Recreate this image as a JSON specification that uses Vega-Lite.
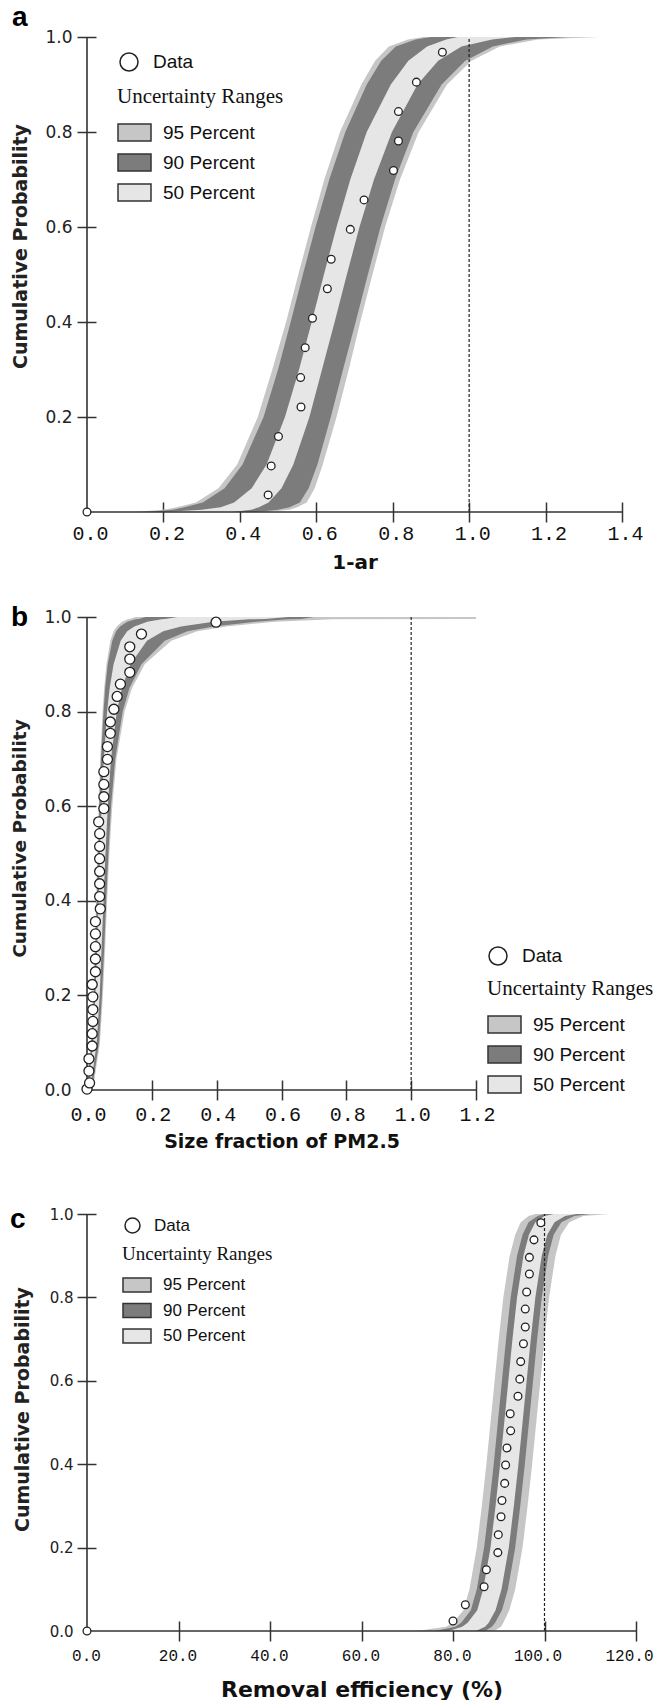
{
"$schema": "https://vega.github.io/schema/vega-lite/v6.json",
"background": "white",
"padding": {"left": 10, "top": 3, "right": 0, "bottom": 0},
"bounds": "flush",
"spacing": 0,
"config": {"view": {"stroke": null}, "axis": {"grid": false}},
"resolve": {"scale": {"fill": "independent", "shape": "independent"}},
"datasets": {
"a_band": [
{"p":0,"l95":0.12,"l90":0.15,"l50":0.20,"h50":0.38,"h90":0.44,"h95":0.47},
{"p":0.005,"l95":0.20,"l90":0.225,"l50":0.30,"h50":0.43,"h90":0.50,"h95":0.53},
{"p":0.01,"l95":0.235,"l90":0.255,"l50":0.35,"h50":0.45,"h90":0.53,"h95":0.55},
{"p":0.02,"l95":0.285,"l90":0.303,"l50":0.385,"h50":0.475,"h90":0.557,"h95":0.575},
{"p":0.05,"l95":0.344,"l90":0.36,"l50":0.431,"h50":0.509,"h90":0.58,"h95":0.596},
{"p":0.1,"l95":0.393,"l90":0.407,"l50":0.47,"h50":0.54,"h90":0.603,"h95":0.617},
{"p":0.2,"l95":0.447,"l90":0.462,"l50":0.518,"h50":0.582,"h90":0.638,"h95":0.653},
{"p":0.3,"l95":0.485,"l90":0.5,"l50":0.555,"h50":0.615,"h90":0.67,"h95":0.685},
{"p":0.4,"l95":0.521,"l90":0.533,"l50":0.588,"h50":0.648,"h90":0.703,"h95":0.715},
{"p":0.5,"l95":0.553,"l90":0.565,"l50":0.62,"h50":0.68,"h90":0.735,"h95":0.747},
{"p":0.6,"l95":0.586,"l90":0.598,"l50":0.653,"h50":0.713,"h90":0.768,"h95":0.78},
{"p":0.7,"l95":0.621,"l90":0.634,"l50":0.689,"h50":0.751,"h90":0.806,"h95":0.819},
{"p":0.8,"l95":0.662,"l90":0.676,"l50":0.732,"h50":0.798,"h90":0.854,"h95":0.868},
{"p":0.9,"l95":0.718,"l90":0.732,"l50":0.795,"h50":0.865,"h90":0.928,"h95":0.942},
{"p":0.95,"l95":0.754,"l90":0.77,"l50":0.841,"h50":0.919,"h90":0.99,"h95":1.006},
{"p":0.98,"l95":0.79,"l90":0.808,"l50":0.89,"h50":0.98,"h90":1.062,"h95":1.08},
{"p":0.995,"l95":0.84,"l90":0.86,"l50":0.94,"h50":1.06,"h90":1.15,"h95":1.18},
{"p":1.0,"l95":0.88,"l90":0.90,"l50":0.97,"h50":1.12,"h90":1.26,"h95":1.34}
],
"a_pts": [
{"v":0,"p":0},{"v":0.474,"p":0.036},{"v":0.482,"p":0.097},{"v":0.501,"p":0.159},{"v":0.560,"p":0.221},
{"v":0.559,"p":0.283},{"v":0.571,"p":0.346},{"v":0.590,"p":0.408},{"v":0.629,"p":0.470},{"v":0.639,"p":0.532},
{"v":0.689,"p":0.595},{"v":0.725,"p":0.657},{"v":0.802,"p":0.719},{"v":0.815,"p":0.781},{"v":0.815,"p":0.843},
{"v":0.862,"p":0.905},{"v":0.930,"p":0.968}
],
"b_band": [
{"p":0,"l95":0.000,"l90":0.001,"l50":0.003,"h50":0.010,"h90":0.015,"h95":0.018},
{"p":0.1,"l95":0.012,"l90":0.014,"l50":0.019,"h50":0.030,"h90":0.037,"h95":0.040},
{"p":0.2,"l95":0.019,"l90":0.021,"l50":0.026,"h50":0.039,"h90":0.046,"h95":0.049},
{"p":0.3,"l95":0.024,"l90":0.026,"l50":0.031,"h50":0.045,"h90":0.053,"h95":0.056},
{"p":0.4,"l95":0.028,"l90":0.030,"l50":0.036,"h50":0.051,"h90":0.059,"h95":0.062},
{"p":0.5,"l95":0.032,"l90":0.034,"l50":0.040,"h50":0.057,"h90":0.066,"h95":0.069},
{"p":0.6,"l95":0.036,"l90":0.038,"l50":0.045,"h50":0.064,"h90":0.074,"h95":0.078},
{"p":0.7,"l95":0.041,"l90":0.043,"l50":0.052,"h50":0.074,"h90":0.087,"h95":0.091},
{"p":0.8,"l95":0.048,"l90":0.051,"l50":0.062,"h50":0.092,"h90":0.110,"h95":0.116},
{"p":0.85,"l95":0.053,"l90":0.056,"l50":0.070,"h50":0.108,"h90":0.131,"h95":0.139},
{"p":0.9,"l95":0.060,"l90":0.064,"l50":0.082,"h50":0.134,"h90":0.168,"h95":0.178},
{"p":0.95,"l95":0.072,"l90":0.078,"l50":0.104,"h50":0.185,"h90":0.240,"h95":0.260},
{"p":0.97,"l95":0.082,"l90":0.090,"l50":0.124,"h50":0.235,"h90":0.310,"h95":0.340},
{"p":0.98,"l95":0.092,"l90":0.102,"l50":0.146,"h50":0.290,"h90":0.390,"h95":0.430},
{"p":0.99,"l95":0.108,"l90":0.124,"l50":0.186,"h50":0.390,"h90":0.520,"h95":0.580},
{"p":0.995,"l95":0.125,"l90":0.150,"l50":0.230,"h50":0.500,"h90":0.620,"h95":0.760},
{"p":0.996,"l95":0.130,"l90":0.160,"l50":0.240,"h50":0.550,"h90":0.660,"h95":1.2},
{"p":1.0,"l95":0.150,"l90":0.180,"l50":0.280,"h50":0.620,"h90":0.700,"h95":1.2}
],
"b_pts": [
{"v":0.0,"p":0.002},{"v":0.008,"p":0.015},{"v":0.006,"p":0.040},{"v":0.006,"p":0.066},{"v":0.016,"p":0.093},
{"v":0.016,"p":0.119},{"v":0.018,"p":0.145},{"v":0.018,"p":0.170},{"v":0.018,"p":0.197},{"v":0.016,"p":0.223},
{"v":0.026,"p":0.250},{"v":0.026,"p":0.277},{"v":0.026,"p":0.303},{"v":0.026,"p":0.330},{"v":0.026,"p":0.356},
{"v":0.041,"p":0.383},{"v":0.039,"p":0.409},{"v":0.039,"p":0.436},{"v":0.039,"p":0.462},{"v":0.039,"p":0.489},
{"v":0.039,"p":0.515},{"v":0.039,"p":0.542},{"v":0.036,"p":0.567},{"v":0.052,"p":0.595},{"v":0.052,"p":0.620},
{"v":0.052,"p":0.646},{"v":0.052,"p":0.673},{"v":0.063,"p":0.699},{"v":0.063,"p":0.726},{"v":0.072,"p":0.754},
{"v":0.072,"p":0.778},{"v":0.083,"p":0.805},{"v":0.093,"p":0.832},{"v":0.103,"p":0.858},{"v":0.132,"p":0.883},
{"v":0.132,"p":0.911},{"v":0.132,"p":0.937},{"v":0.168,"p":0.964},{"v":0.398,"p":0.989}
],
"c_band": [
{"p":0,"l95":72,"l90":76,"l50":79,"h50":85,"h90":87,"h95":89},
{"p":0.01,"l95":78.5,"l90":80.5,"l50":82.0,"h50":87.0,"h90":88.5,"h95":90.5},
{"p":0.02,"l95":80.0,"l90":81.8,"l50":83.2,"h50":87.8,"h90":89.2,"h95":91.0},
{"p":0.05,"l95":82.3,"l90":83.9,"l50":85.3,"h50":89.3,"h90":90.7,"h95":92.3},
{"p":0.1,"l95":83.6,"l90":85.2,"l50":86.6,"h50":90.6,"h90":92.0,"h95":93.6},
{"p":0.2,"l95":85.2,"l90":86.8,"l50":88.2,"h50":92.2,"h90":93.6,"h95":95.2},
{"p":0.3,"l95":86.3,"l90":87.9,"l50":89.3,"h50":93.3,"h90":94.7,"h95":96.3},
{"p":0.4,"l95":87.3,"l90":88.9,"l50":90.3,"h50":94.3,"h90":95.7,"h95":97.3},
{"p":0.5,"l95":88.2,"l90":89.8,"l50":91.2,"h50":95.2,"h90":96.6,"h95":98.2},
{"p":0.6,"l95":89.1,"l90":90.7,"l50":92.1,"h50":96.1,"h90":97.5,"h95":99.1},
{"p":0.7,"l95":90.0,"l90":91.6,"l50":93.0,"h50":97.0,"h90":98.4,"h95":100.0},
{"p":0.8,"l95":91.0,"l90":92.6,"l50":94.0,"h50":98.0,"h90":99.4,"h95":101.0},
{"p":0.9,"l95":92.4,"l90":94.0,"l50":95.4,"h50":99.4,"h90":100.8,"h95":102.4},
{"p":0.95,"l95":93.6,"l90":95.2,"l50":96.6,"h50":100.6,"h90":102.0,"h95":103.6},
{"p":0.98,"l95":94.8,"l90":96.5,"l50":98.0,"h50":102.2,"h90":103.7,"h95":105.4},
{"p":0.995,"l95":96.5,"l90":98.5,"l50":100.0,"h50":104.5,"h90":106.5,"h95":108.5},
{"p":1.0,"l95":98,"l90":100,"l50":102,"h50":107,"h90":110,"h95":114}
],
"c_pts": [
{"v":0,"p":0},{"v":80.0,"p":0.024},{"v":82.7,"p":0.063},{"v":86.8,"p":0.106},{"v":87.3,"p":0.147},
{"v":89.8,"p":0.188},{"v":89.9,"p":0.231},{"v":90.5,"p":0.274},{"v":90.7,"p":0.313},{"v":91.3,"p":0.354},
{"v":91.5,"p":0.398},{"v":91.8,"p":0.439},{"v":92.6,"p":0.480},{"v":92.5,"p":0.521},{"v":94.2,"p":0.563},
{"v":94.6,"p":0.604},{"v":94.8,"p":0.646},{"v":95.4,"p":0.689},{"v":95.8,"p":0.729},{"v":95.8,"p":0.772},
{"v":96.1,"p":0.813},{"v":96.7,"p":0.856},{"v":96.7,"p":0.896},{"v":97.7,"p":0.938},{"v":99.2,"p":0.979}
]
},
"vconcat": [
{
"width": 535, "height": 475,
"title": {"text": "a", "anchor": "start", "frame": "group", "orient": "top", "font": "Liberation Sans", "fontSize": 28, "fontWeight": "bold", "color": "#000", "baseline": "alphabetic", "dx": -75, "offset": -25.5},
"layer": [
{"data": {"name": "a_band"}, "mark": {"type": "area", "orient": "horizontal", "opacity": 1},
 "encoding": {
  "y": {"field": "p", "type": "quantitative", "title": "Cumulative Probability", "scale": {"domain": [0, 1], "nice": false, "zero": false},
   "axis": {"values": [0.2, 0.4, 0.6, 0.8, 1.0], "format": ".1f", "domain": false, "grid": false, "offset": -9, "tickSize": 19, "tickColor": "#333", "tickWidth": 1.5, "labelFont": "DejaVu Sans", "labelFontSize": 17, "labelColor": "#222", "labelPadding": 5, "labelFlush": false, "titleFont": "DejaVu Sans", "titleFontSize": 19, "titleFontWeight": "bold", "titleColor": "#222", "titleAngle": -90, "titleAlign": "center", "titleBaseline": "middle", "titleX": -76, "titleY": 209}},
  "x": {"field": "l95", "type": "quantitative", "title": "1-ar", "scale": {"domain": [0, 1.4], "nice": false, "zero": false},
   "axis": {"values": [0, 0.2, 0.4, 0.6, 0.8, 1.0, 1.2, 1.4], "format": ".1f", "domain": false, "grid": false, "offset": -10, "tickSize": 20, "tickColor": "#333", "tickWidth": 1.5, "tickOpacity": {"condition": {"test": "datum.value === 0", "value": 0}, "value": 1}, "labelFont": "Liberation Mono", "labelFontSize": 20, "labelColor": "#111", "labelPadding": 1.5, "labelOffset": 3, "labelFlush": false, "titleFont": "DejaVu Sans", "titleFontSize": 20, "titleFontWeight": "bold", "titleColor": "#111", "titleBaseline": "top", "titleY": 50}},
  "x2": {"field": "h95"},
  "fill": {"datum": "95 Percent", "type": "nominal", "scale": {"domain": ["95 Percent", "90 Percent", "50 Percent"], "range": ["#c6c6c6", "#7c7c7c", "#e6e6e6"]},
   "legend": {"title": "Uncertainty Ranges", "orient": "none", "legendX": 30, "legendY": 49, "direction": "vertical", "symbolType": "M-1,-0.52L1,-0.52L1,0.52L-1,0.52Z", "symbolSize": 1089, "symbolOpacity": 1, "titleFont": "Liberation Serif", "titleFontSize": 21, "titleFontWeight": "normal", "titleColor": "#111", "titlePadding": 8, "labelFont": "Liberation Sans", "labelFontSize": 19, "labelColor": "#111", "labelOffset": 11, "rowPadding": -3.5, "padding": 0,
    "encode": {"symbols": {"update": {"stroke": {"value": "#333"}, "strokeWidth": {"value": 1.5}}}}}}
 }},
{"data": {"name": "a_band"}, "mark": {"type": "area", "orient": "horizontal", "opacity": 1},
 "encoding": {"y": {"field": "p", "type": "quantitative", "title": "Cumulative Probability"}, "x": {"field": "l90", "type": "quantitative", "title": "1-ar"}, "x2": {"field": "h90"}, "fill": {"datum": "90 Percent", "type": "nominal"}}},
{"data": {"name": "a_band"}, "mark": {"type": "area", "orient": "horizontal", "opacity": 1},
 "encoding": {"y": {"field": "p", "type": "quantitative", "title": "Cumulative Probability"}, "x": {"field": "l50", "type": "quantitative", "title": "1-ar"}, "x2": {"field": "h50"}, "fill": {"datum": "50 Percent", "type": "nominal"}}},
{"data": {"values": [{}]}, "mark": {"type": "rule", "strokeDash": [3, 2], "color": "#222", "strokeWidth": 1.2},
 "encoding": {"x": {"datum": 1, "type": "quantitative", "title": "1-ar"}, "y": {"datum": 0, "type": "quantitative", "title": "Cumulative Probability"}, "y2": {"datum": 1}}},
{"data": {"values": [{}]}, "mark": {"type": "rule", "color": "#333", "strokeWidth": 1.6},
 "encoding": {"x": {"datum": 0, "type": "quantitative", "title": "1-ar"}, "y": {"datum": 0, "type": "quantitative", "title": "Cumulative Probability"}, "y2": {"datum": 1}}},
{"data": {"values": [{}]}, "mark": {"type": "rule", "color": "#333", "strokeWidth": 1.6},
 "encoding": {"x": {"datum": 0, "type": "quantitative", "title": "1-ar"}, "x2": {"datum": 1.4}, "y": {"datum": 0, "type": "quantitative", "title": "Cumulative Probability"}}},
{"data": {"name": "a_pts"}, "mark": {"type": "point", "filled": true, "fill": "#fff", "stroke": "#222", "strokeWidth": 1.3, "size": 60, "opacity": 1},
 "encoding": {"x": {"field": "v", "type": "quantitative", "title": "1-ar"}, "y": {"field": "p", "type": "quantitative", "title": "Cumulative Probability"},
  "shape": {"datum": "Data", "type": "nominal", "scale": {"domain": ["Data"], "range": ["circle"]},
   "legend": {"title": null, "orient": "none", "legendX": 32, "legendY": 15, "symbolSize": 324, "symbolOpacity": 1, "labelFont": "Liberation Sans", "labelFontSize": 19, "labelColor": "#111", "labelOffset": 14, "padding": 0,
    "encode": {"symbols": {"update": {"fill": {"value": "#fff"}, "stroke": {"value": "#222"}, "strokeWidth": {"value": 1.5}}}}}}}}
]
},
{"width": 10, "height": 105, "data": {"values": [{}]}, "mark": {"type": "text"}, "encoding": {"text": {"value": ""}}},
{
"width": 389, "height": 473,
"title": {"text": "b", "anchor": "start", "frame": "group", "orient": "top", "font": "Liberation Sans", "fontSize": 28, "fontWeight": "bold", "color": "#000", "baseline": "alphabetic", "dx": -76, "offset": -45.5},
"layer": [
{"data": {"name": "b_band"}, "mark": {"type": "area", "orient": "horizontal", "opacity": 1},
 "encoding": {
  "y": {"field": "p", "type": "quantitative", "title": "Cumulative Probability", "scale": {"domain": [0, 1], "nice": false, "zero": false},
   "axis": {"values": [0, 0.2, 0.4, 0.6, 0.8, 1.0], "format": ".1f", "domain": false, "grid": false, "offset": -9, "tickSize": 19, "tickColor": "#333", "tickWidth": 1.5, "tickOpacity": {"condition": {"test": "datum.value === 0", "value": 0}, "value": 1}, "labelFont": "DejaVu Sans", "labelFontSize": 17, "labelColor": "#222", "labelPadding": 6, "labelFlush": false, "titleFont": "DejaVu Sans", "titleFontSize": 18.5, "titleFontWeight": "bold", "titleColor": "#222", "titleAngle": -90, "titleAlign": "center", "titleBaseline": "middle", "titleX": -77, "titleY": 221}},
  "x": {"field": "l95", "type": "quantitative", "title": "Size fraction of PM2.5", "scale": {"domain": [0, 1.2], "nice": false, "zero": false},
   "axis": {"values": [0, 0.2, 0.4, 0.6, 0.8, 1.0, 1.2], "format": ".1f", "domain": false, "grid": false, "offset": -10, "tickSize": 20, "tickColor": "#333", "tickWidth": 1.5, "tickOpacity": {"condition": {"test": "datum.value === 0", "value": 0}, "value": 1}, "labelFont": "Liberation Mono", "labelFontSize": 20, "labelColor": "#111", "labelPadding": 4, "labelOffset": 1, "labelFlush": false, "titleFont": "DejaVu Sans", "titleFontSize": 19, "titleFontWeight": "bold", "titleColor": "#111", "titleBaseline": "top", "titleY": 52}},
  "x2": {"field": "h95"},
  "fill": {"datum": "95 Percent", "type": "nominal", "scale": {"domain": ["95 Percent", "90 Percent", "50 Percent"], "range": ["#c6c6c6", "#7c7c7c", "#e6e6e6"]},
   "legend": {"title": "Uncertainty Ranges", "orient": "none", "legendX": 400, "legendY": 361, "direction": "vertical", "symbolType": "M-1,-0.52L1,-0.52L1,0.52L-1,0.52Z", "symbolSize": 1089, "symbolOpacity": 1, "titleFont": "Liberation Serif", "titleFontSize": 21, "titleFontWeight": "normal", "titleColor": "#111", "titlePadding": 8, "labelFont": "Liberation Sans", "labelFontSize": 19, "labelColor": "#111", "labelOffset": 11, "rowPadding": -3.5, "padding": 0,
    "encode": {"symbols": {"update": {"stroke": {"value": "#333"}, "strokeWidth": {"value": 1.5}}}}}}
 }},
{"data": {"name": "b_band"}, "mark": {"type": "area", "orient": "horizontal", "opacity": 1},
 "encoding": {"y": {"field": "p", "type": "quantitative", "title": "Cumulative Probability"}, "x": {"field": "l90", "type": "quantitative", "title": "Size fraction of PM2.5"}, "x2": {"field": "h90"}, "fill": {"datum": "90 Percent", "type": "nominal"}}},
{"data": {"name": "b_band"}, "mark": {"type": "area", "orient": "horizontal", "opacity": 1},
 "encoding": {"y": {"field": "p", "type": "quantitative", "title": "Cumulative Probability"}, "x": {"field": "l50", "type": "quantitative", "title": "Size fraction of PM2.5"}, "x2": {"field": "h50"}, "fill": {"datum": "50 Percent", "type": "nominal"}}},
{"data": {"values": [{}]}, "mark": {"type": "rule", "strokeDash": [3, 2], "color": "#222", "strokeWidth": 1.2},
 "encoding": {"x": {"datum": 1, "type": "quantitative", "title": "Size fraction of PM2.5"}, "y": {"datum": 0, "type": "quantitative", "title": "Cumulative Probability"}, "y2": {"datum": 1}}},
{"data": {"values": [{}]}, "mark": {"type": "rule", "color": "#333", "strokeWidth": 1.6},
 "encoding": {"x": {"datum": 0, "type": "quantitative", "title": "Size fraction of PM2.5"}, "y": {"datum": 0, "type": "quantitative", "title": "Cumulative Probability"}, "y2": {"datum": 1}}},
{"data": {"values": [{}]}, "mark": {"type": "rule", "color": "#333", "strokeWidth": 1.6},
 "encoding": {"x": {"datum": 0, "type": "quantitative", "title": "Size fraction of PM2.5"}, "x2": {"datum": 1.2}, "y": {"datum": 0, "type": "quantitative", "title": "Cumulative Probability"}}},
{"data": {"name": "b_pts"}, "mark": {"type": "point", "filled": true, "fill": "#fff", "stroke": "#222", "strokeWidth": 1.3, "size": 100, "opacity": 1},
 "encoding": {"x": {"field": "v", "type": "quantitative", "title": "Size fraction of PM2.5"}, "y": {"field": "p", "type": "quantitative", "title": "Cumulative Probability"},
  "shape": {"datum": "Data", "type": "nominal", "scale": {"domain": ["Data"], "range": ["circle"]},
   "legend": {"title": null, "orient": "none", "legendX": 401, "legendY": 329, "symbolSize": 324, "symbolOpacity": 1, "labelFont": "Liberation Sans", "labelFontSize": 19, "labelColor": "#111", "labelOffset": 14, "padding": 0,
    "encode": {"symbols": {"update": {"fill": {"value": "#fff"}, "stroke": {"value": "#222"}, "strokeWidth": {"value": 1.5}}}}}}}}
]
},
{"width": 10, "height": 124, "data": {"values": [{}]}, "mark": {"type": "text"}, "encoding": {"text": {"value": ""}}},
{
"width": 549, "height": 417,
"title": {"text": "c", "anchor": "start", "frame": "group", "orient": "top", "font": "Liberation Sans", "fontSize": 28, "fontWeight": "bold", "color": "#000", "baseline": "alphabetic", "dx": -77, "offset": -48.5},
"layer": [
{"data": {"name": "c_band"}, "mark": {"type": "area", "orient": "horizontal", "opacity": 1},
 "encoding": {
  "y": {"field": "p", "type": "quantitative", "title": "Cumulative Probability", "scale": {"domain": [0, 1], "nice": false, "zero": false},
   "axis": {"values": [0, 0.2, 0.4, 0.6, 0.8, 1.0], "format": ".1f", "domain": false, "grid": false, "offset": -9, "tickSize": 19, "tickColor": "#333", "tickWidth": 1.5, "tickOpacity": {"condition": {"test": "datum.value === 0", "value": 0}, "value": 1}, "labelFont": "DejaVu Sans", "labelFontSize": 15, "labelColor": "#222", "labelPadding": 4, "labelFlush": false, "titleFont": "DejaVu Sans", "titleFontSize": 19, "titleFontWeight": "bold", "titleColor": "#222", "titleAngle": -90, "titleAlign": "center", "titleBaseline": "middle", "titleX": -74, "titleY": 195}},
  "x": {"field": "l95", "type": "quantitative", "title": "Removal efficiency (%)", "scale": {"domain": [0, 120], "nice": false, "zero": false},
   "axis": {"values": [0, 20, 40, 60, 80, 100, 120], "format": ".1f", "domain": false, "grid": false, "offset": -10, "tickSize": 20, "tickColor": "#333", "tickWidth": 1.5, "tickOpacity": {"condition": {"test": "datum.value === 0", "value": 0}, "value": 1}, "labelFont": "Liberation Mono", "labelFontSize": 16, "labelColor": "#111", "labelPadding": 6, "labelOffset": {"condition": {"test": "datum.value >= 100", "value": -7}, "value": -1}, "labelFlush": false, "titleFont": "DejaVu Sans", "titleFontSize": 22, "titleFontWeight": "bold", "titleColor": "#111", "titleBaseline": "top", "titleY": 58}},
  "x2": {"field": "h95"},
  "fill": {"datum": "95 Percent", "type": "nominal", "scale": {"domain": ["95 Percent", "90 Percent", "50 Percent"], "range": ["#c6c6c6", "#7c7c7c", "#e6e6e6"]},
   "legend": {"title": "Uncertainty Ranges", "orient": "none", "legendX": 35, "legendY": 31, "direction": "vertical", "symbolType": "M-1,-0.5L1,-0.5L1,0.5L-1,0.5Z", "symbolSize": 784, "symbolOpacity": 1, "titleFont": "Liberation Serif", "titleFontSize": 19, "titleFontWeight": "normal", "titleColor": "#111", "titlePadding": 6, "labelFont": "Liberation Sans", "labelFontSize": 17, "labelColor": "#111", "labelOffset": 11, "rowPadding": 0.5, "padding": 0,
    "encode": {"symbols": {"update": {"stroke": {"value": "#333"}, "strokeWidth": {"value": 1.5}}}}}}
 }},
{"data": {"name": "c_band"}, "mark": {"type": "area", "orient": "horizontal", "opacity": 1},
 "encoding": {"y": {"field": "p", "type": "quantitative", "title": "Cumulative Probability"}, "x": {"field": "l90", "type": "quantitative", "title": "Removal efficiency (%)"}, "x2": {"field": "h90"}, "fill": {"datum": "90 Percent", "type": "nominal"}}},
{"data": {"name": "c_band"}, "mark": {"type": "area", "orient": "horizontal", "opacity": 1},
 "encoding": {"y": {"field": "p", "type": "quantitative", "title": "Cumulative Probability"}, "x": {"field": "l50", "type": "quantitative", "title": "Removal efficiency (%)"}, "x2": {"field": "h50"}, "fill": {"datum": "50 Percent", "type": "nominal"}}},
{"data": {"values": [{}]}, "mark": {"type": "rule", "strokeDash": [3, 2], "color": "#222", "strokeWidth": 1.2},
 "encoding": {"x": {"datum": 100, "type": "quantitative", "title": "Removal efficiency (%)"}, "y": {"datum": 0, "type": "quantitative", "title": "Cumulative Probability"}, "y2": {"datum": 1}}},
{"data": {"values": [{}]}, "mark": {"type": "rule", "color": "#333", "strokeWidth": 1.6},
 "encoding": {"x": {"datum": 0, "type": "quantitative", "title": "Removal efficiency (%)"}, "y": {"datum": 0, "type": "quantitative", "title": "Cumulative Probability"}, "y2": {"datum": 1}}},
{"data": {"values": [{}]}, "mark": {"type": "rule", "color": "#333", "strokeWidth": 1.6},
 "encoding": {"x": {"datum": 0, "type": "quantitative", "title": "Removal efficiency (%)"}, "x2": {"datum": 120}, "y": {"datum": 0, "type": "quantitative", "title": "Cumulative Probability"}}},
{"data": {"name": "c_pts"}, "mark": {"type": "point", "filled": true, "fill": "#fff", "stroke": "#222", "strokeWidth": 1.3, "size": 60, "opacity": 1},
 "encoding": {"x": {"field": "v", "type": "quantitative", "title": "Removal efficiency (%)"}, "y": {"field": "p", "type": "quantitative", "title": "Cumulative Probability"},
  "shape": {"datum": "Data", "type": "nominal", "scale": {"domain": ["Data"], "range": ["circle"]},
   "legend": {"title": null, "orient": "none", "legendX": 37, "legendY": 3, "symbolSize": 225, "symbolOpacity": 1, "labelFont": "Liberation Sans", "labelFontSize": 17, "labelColor": "#111", "labelOffset": 13, "padding": 0,
    "encode": {"symbols": {"update": {"fill": {"value": "#fff"}, "stroke": {"value": "#222"}, "strokeWidth": {"value": 1.5}}}}}}}}
]
}
]
}
